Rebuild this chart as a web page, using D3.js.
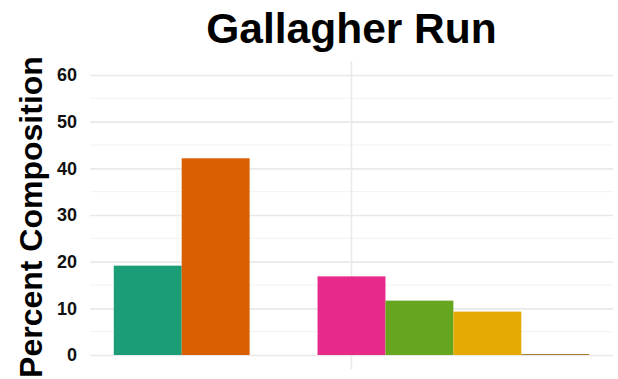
<!DOCTYPE html>
<html>
<head>
<meta charset="utf-8">
<script src="https://cdn.jsdelivr.net/npm/d3@7"></script>
<style>
  html, body { margin: 0; padding: 0; background: #ffffff; }
  svg { display: block; font-family: "Liberation Sans", Arial, Helvetica, sans-serif; }
</style>
</head>
<body>
<svg id="chart" width="618" height="379"></svg>
<script>
// Site and feeding-group composition (percent)
const site = "Gallagher Run";
const groups = ["Group 1", "Group 2", "Group 3", "Group 4", "Group 5", "Group 6", "Group 7"];
const percents = [19.15, 42.15, 0, 16.85, 11.65, 9.3, 0.2];
const groupColors = ["#1B9E77", "#D95F02", "#7570B3", "#E7298A", "#66A61E", "#E6AB02", "#A6761D"];
const yTicks = [0, 10, 20, 30, 40, 50, 60];
const yMinorTicks = [5, 15, 25, 35, 45, 55];

const svg = d3.select("#chart");
const panel = { left: 90, right: 613, top: 61, bottom: 369 };

const data = groups.map((g, i) => ({ group: g, value: percents[i], color: groupColors[i] }));

// scales
const y = d3.scaleLinear().domain([-3, 63]).range([panel.bottom, panel.top]);
const xSite = d3.scaleBand().domain([site]).range([panel.left, panel.right]).paddingOuter(0.05).paddingInner(0);
const xGroup = d3.scaleBand().domain(groups).range([0, xSite.bandwidth()]).padding(0);
const siteCenter = xSite(site) + xSite.bandwidth() / 2;

// minor gridlines
svg.append("g").selectAll("line").data(yMinorTicks).join("line")
  .attr("x1", panel.left).attr("x2", panel.right)
  .attr("y1", d => y(d)).attr("y2", d => y(d))
  .attr("stroke", "#f2f2f2").attr("stroke-width", 1);

// major gridlines and tick labels via axis
const yAxis = d3.axisLeft(y).tickValues(yTicks).tickSize(-(panel.right - panel.left)).tickPadding(13).tickFormat(d3.format("d"));
const gy = svg.append("g").attr("transform", `translate(${panel.left},0)`).call(yAxis);
gy.select(".domain").remove();
gy.selectAll(".tick line").attr("stroke", "#e9e9e9").attr("stroke-width", 1.6);
gy.selectAll(".tick text")
  .attr("fill", "#111").attr("font-size", 18).attr("font-weight", "bold")
  .attr("font-family", "'Liberation Sans', Arial, sans-serif");

// vertical gridline at the site position
svg.append("line")
  .attr("x1", siteCenter).attr("x2", siteCenter)
  .attr("y1", panel.top).attr("y2", panel.bottom)
  .attr("stroke", "#e9e9e9").attr("stroke-width", 1.6);

// bars
svg.append("g").selectAll("rect").data(data).join("rect")
  .attr("x", d => xSite(site) + xGroup(d.group))
  .attr("width", xGroup.bandwidth())
  .attr("y", d => y(d.value))
  .attr("height", d => y(0) - y(d.value))
  .attr("fill", d => d.color);

// title
svg.append("text")
  .attr("x", siteCenter).attr("y", 43)
  .attr("text-anchor", "middle")
  .attr("font-size", 42.5).attr("font-weight", "bold").attr("fill", "#000")
  .text(site);

// y-axis title
svg.append("text")
  .attr("transform", `translate(42,217) rotate(-90)`)
  .attr("text-anchor", "middle")
  .attr("font-size", 32).attr("font-weight", "bold").attr("fill", "#000")
  .text("Percent Composition");
</script>
</body>
</html>
